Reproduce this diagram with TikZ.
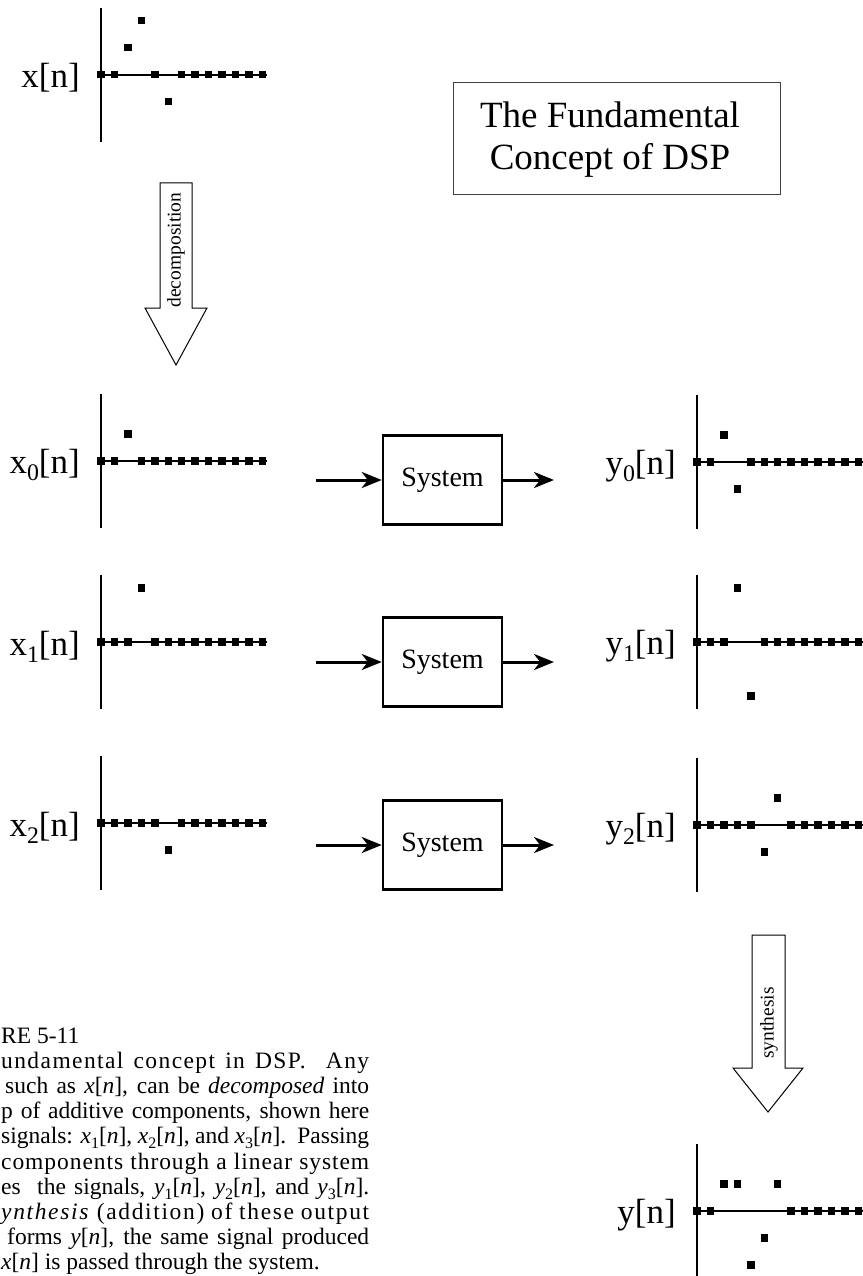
\documentclass[tikz,border=0pt]{standalone}
\usepackage{fontspec}
\setmainfont{Liberation Serif}
\usetikzlibrary{arrows.meta}
\newcommand\sbx[1]{\raisebox{-0.22em}{\scalebox{0.68}{#1}}}
\newcommand\stemplot[4]{%
  \draw[axisln] (#2,#3-67) -- (#2,#3+67);
  \draw[baseln] (#2,#3) -- (#2+166,#3);
  \foreach \v [count=\i from 0] in {#4} {
    \pgfmathsetmacro\px{#2+13.45*\i}
    \pgfmathsetmacro\py{#3-27*(\v)}
    \node[sq] (#1\i) at (\px,\py) {};
  }%
}
\tikzset{
  lab/.style={font=\fontsize{35}{40}\selectfont, anchor=base east, inner sep=0pt},
  sysbox/.style={draw, line width=2.5pt, minimum width=119pt, minimum height=89pt,
                 font=\fontsize{28}{32}\selectfont, inner sep=0pt},
  flow/.style={line width=3pt, -{Stealth[length=20pt,width=16pt,inset=6pt]}},
  axisln/.style={line width=2.5pt},
  baseln/.style={line width=2pt},
  sq/.style={fill=black, minimum size=7.5pt, inner sep=0pt, draw=none, rectangle},
  bigarrow/.style={draw, line width=1pt, fill=white, line join=miter},
  captxt/.style={font=\fontsize{23.5}{25}\selectfont, anchor=base west, inner sep=0pt},
}
\begin{document}
\begin{tikzpicture}[x=1pt,y=-1pt]
\useasboundingbox (0,0) rectangle (862,1276);

% title
\node[draw=black!75, line width=1pt, minimum width=327pt, minimum height=112pt] (titlebox) at (616.5,139) {};
\node[font=\fontsize{37}{42}\selectfont, align=center, inner sep=0pt] (titletxt) at (610,140) {The Fundamental\\Concept of DSP};

% input signal
\stemplot{x}{101}{74.7}{0,0,1,2,0,-1,0,0,0,0,0,0,0}
\node[lab] (xl) at (80,88) {x[n]};

% decomposition arrow
\draw[bigarrow] (160,183) -- (192,183) -- (192,308) -- (207,308) -- (176,365) -- (145,308) -- (160,308) -- cycle;
\node[rotate=90, font=\fontsize{19.5}{20}\selectfont, inner sep=0pt] (dec) at (176,250) {decomposition};

% components
\stemplot{xa}{101}{461}{0,0,1,0,0,0,0,0,0,0,0,0,0}
\node[lab] (x0l) at (80,473) {x\sbx{0}[n]};
\stemplot{xb}{101}{642}{0,0,0,2,0,0,0,0,0,0,0,0,0}
\node[lab] (x1l) at (80,655) {x\sbx{1}[n]};
\stemplot{xc}{101}{823}{0,0,0,0,0,-1,0,0,0,0,0,0,0}
\node[lab] (x2l) at (80,836) {x\sbx{2}[n]};

% systems
\node[sysbox] (sys0) at (442.5,480) {System};
\node[sysbox] (sys1) at (442.5,662) {System};
\node[sysbox] (sys2) at (442.5,845) {System};
\coordinate (in0) at (316,480);
\coordinate (in1) at (316,662);
\coordinate (in2) at (316,845);
\coordinate (out0) at (554,480);
\coordinate (out1) at (554,662);
\coordinate (out2) at (554,845);
\draw[flow] (in0) -- (sys0.west);
\draw[flow] (in1) -- (sys1.west);
\draw[flow] (in2) -- (sys2.west);
\draw[flow] (sys0.east) -- (out0);
\draw[flow] (sys1.east) -- (out1);
\draw[flow] (sys2.east) -- (out2);

% outputs
\stemplot{ya}{697}{462}{0,0,1,-1,0,0,0,0,0,0,0,0,0}
\node[lab] (y0l) at (676,474) {y\sbx{0}[n]};
\stemplot{yb}{697}{642}{0,0,0,2,-2,0,0,0,0,0,0,0,0}
\node[lab] (y1l) at (676,654) {y\sbx{1}[n]};
\stemplot{yc}{697}{825}{0,0,0,0,0,-1,1,0,0,0,0,0,0}
\node[lab] (y2l) at (676,837) {y\sbx{2}[n]};

% synthesis arrow
\draw[bigarrow] (752,935) -- (785,935) -- (785,1068) -- (803,1068) -- (768,1112) -- (733,1068) -- (752,1068) -- cycle;
\node[rotate=90, font=\fontsize{19.5}{20}\selectfont, inner sep=0pt] (syn) at (769,1023) {synthesis};

% output sum
\stemplot{ys}{697}{1211}{0,0,1,1,-2,-1,1,0,0,0,0,0,0}
\node[lab] (yl) at (676,1223) {y[n]};

% caption (as visible in the picture)
\node[captxt] (c1) at (1,1043) {RE 5-11};
\node[captxt] (c2) at (1,1068.2) {\addfontfeature{LetterSpace=6}\makebox[368pt][s]{undamental concept in DSP.\ \ Any}};
\node[captxt] (c3) at (5,1093.4) {\makebox[364pt][s]{such as \textit{x}[\textit{n}], can be \textit{decomposed} into}};
\node[captxt] (c4) at (1,1118.6) {\makebox[368pt][s]{p of additive components, shown here}};
\node[captxt] (c5) at (1,1143.8) {\makebox[368pt][s]{signals: \textit{x}\sbx{1}[\textit{n}], \textit{x}\sbx{2}[\textit{n}], and \textit{x}\sbx{3}[\textit{n}].\ \ Passing}};
\node[captxt] (c6) at (1,1169) {\addfontfeature{LetterSpace=4}\makebox[368pt][s]{components through a linear system}};
\node[captxt] (c7) at (1,1194.2) {\makebox[368pt][s]{es\ \ the signals, \textit{y}\sbx{1}[\textit{n}], \textit{y}\sbx{2}[\textit{n}], and \textit{y}\sbx{3}[\textit{n}].}};
\node[captxt] (c8) at (1,1219.4) {\addfontfeature{LetterSpace=7}\makebox[368pt][s]{\textit{ynthesis} (addition) of these output}};
\node[captxt] (c9) at (7,1244.6) {\makebox[362pt][s]{forms \textit{y}[\textit{n}], the same signal produced}};
\node[captxt] (c10) at (1,1269.8) {\textit{x}[\textit{n}] is passed through the system.};
\end{tikzpicture}
\end{document}
